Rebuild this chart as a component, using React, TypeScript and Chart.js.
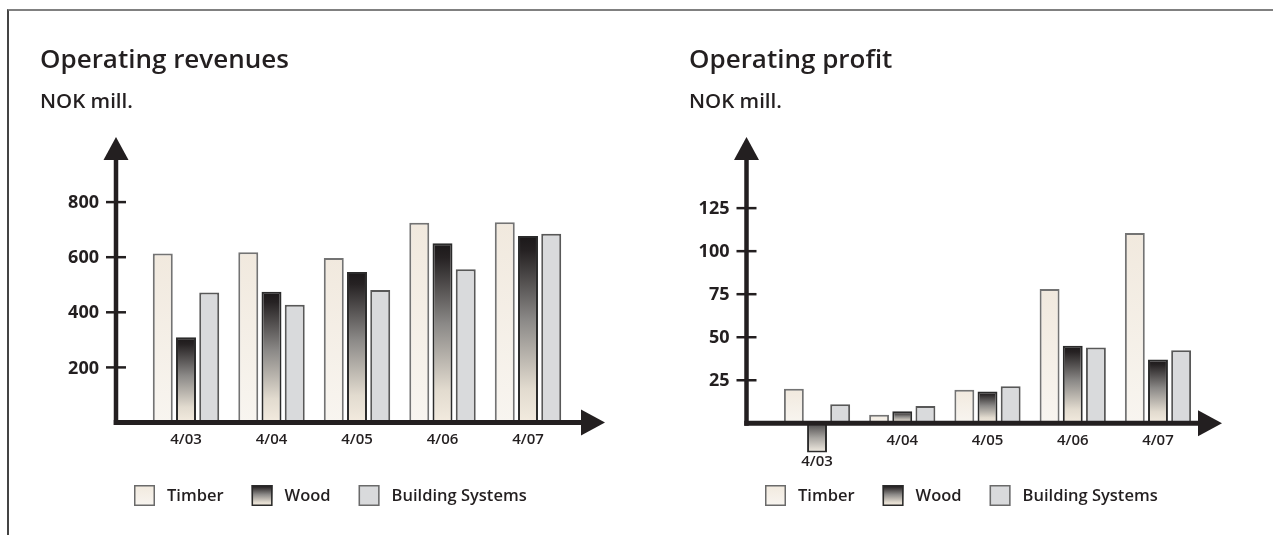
import React, { useEffect, useRef } from "react";
import { Chart, registerables } from "chart.js";

Chart.register(...registerables);

const categories = ["4/03", "4/04", "4/05", "4/06", "4/07"];
const seriesNames = ["Timber", "Wood", "Building Systems"];

const revenueTimber = [613, 618, 597, 725, 727];
const revenueWood = [309, 475, 546, 651, 677];
const revenueBuilding = [472, 427, 481, 556, 685];
const revenueTicks = [200, 400, 600, 800];

const profitTimber = [20, 5, 19.5, 78, 110.5];
const profitWood = [-17, 7, 18.5, 45, 37];
const profitBuilding = [11, 10, 21.5, 44, 42.5];
const profitTicks = [25, 50, 75, 100, 125];

const FONT = "'Open Sans', 'Noto Sans', sans-serif";
const INK = "#231f20";

function woodGradient(ctx: CanvasRenderingContext2D, top: number, bot: number, negative: boolean) {
  const g = ctx.createLinearGradient(0, top, 0, bot);
  if (negative) {
    g.addColorStop(0, "#4a4849");
    g.addColorStop(0.5, "#a8a5a1");
    g.addColorStop(1, "#f4eee4");
  } else {
    g.addColorStop(0, "#1b1819");
    g.addColorStop(0.08, "#262223");
    g.addColorStop(0.45, "#8b8987");
    g.addColorStop(0.82, "#e2dbcf");
    g.addColorStop(1, "#f3ebdf");
  }
  return g;
}

function timberGradient(ctx: CanvasRenderingContext2D, top: number, bot: number) {
  const g = ctx.createLinearGradient(0, top, 0, bot);
  g.addColorStop(0, "#f1e9de");
  g.addColorStop(1, "#f8f5f0");
  return g;
}

const barFill = (kind: string) => (c: any) => {
  const chart = c.chart;
  if (!chart.chartArea || c.type !== "data" || !chart.scales.y) {
    return kind === "wood" ? "#777" : kind === "timber" ? "#f4efe6" : "#d9dadc";
  }
  const ys = chart.scales.y;
  const v = c.raw as number;
  const p = ys.getPixelForValue(v);
  const b = ys.getPixelForValue(0);
  const top = Math.min(p, b);
  const bot = Math.max(p, b);
  if (kind === "wood") return woodGradient(chart.ctx, top, bot, v < 0);
  return timberGradient(chart.ctx, top, bot);
};

const customPlugin = {
  id: "customDraw",
  afterDatasetsDraw(chart: any, _args: any, opts: any) {
    const ctx: CanvasRenderingContext2D = chart.ctx;
    const xs = chart.scales.x;
    const ys = chart.scales.y;
    const ax = opts.axisX;
    const y0 = ys.getPixelForValue(0);
    ctx.save();
    ctx.fillStyle = INK;
    ctx.strokeStyle = INK;

    // y axis
    ctx.lineWidth = 4.5;
    ctx.beginPath();
    ctx.moveTo(ax, y0 + 2.5);
    ctx.lineTo(ax, opts.arrowTop + 20);
    ctx.stroke();
    ctx.beginPath();
    ctx.moveTo(ax, opts.arrowTop);
    ctx.lineTo(ax - 12.5, opts.arrowTop + 23);
    ctx.lineTo(ax + 12.5, opts.arrowTop + 23);
    ctx.closePath();
    ctx.fill();

    // x axis
    ctx.lineWidth = 5;
    ctx.beginPath();
    ctx.moveTo(ax - 2.25, y0);
    ctx.lineTo(opts.arrowRight - 20, y0);
    ctx.stroke();
    ctx.beginPath();
    ctx.moveTo(opts.arrowRight, y0);
    ctx.lineTo(opts.arrowRight - 24, y0 - 13);
    ctx.lineTo(opts.arrowRight - 24, y0 + 13);
    ctx.closePath();
    ctx.fill();

    // y ticks
    ctx.lineWidth = 2.5;
    ctx.font = `700 18px ${FONT}`;
    ctx.textAlign = "right";
    ctx.textBaseline = "middle";
    (opts.ticks as number[]).forEach((v) => {
      const py = ys.getPixelForValue(v);
      ctx.beginPath();
      ctx.moveTo(ax - 10, py);
      ctx.lineTo(ax + 10, py);
      ctx.stroke();
      ctx.fillText(String(v), ax - 17, py + 1);
    });

    // x labels
    ctx.font = `600 15px ${FONT}`;
    ctx.textAlign = "center";
    ctx.textBaseline = "top";
    const labels: string[] = chart.data.labels;
    labels.forEach((lab, i) => {
      const px = xs.getPixelForValue(i);
      let minV = 0;
      chart.data.datasets.forEach((d: any) => {
        if (d.data[i] < minV) minV = d.data[i];
      });
      const py = minV < 0 ? ys.getPixelForValue(minV) + 2 : y0 + 10;
      ctx.fillText(lab, px, py);
    });

    // titles
    ctx.textAlign = "left";
    ctx.textBaseline = "alphabetic";
    ctx.font = `600 26px ${FONT}`;
    ctx.fillText(opts.title, opts.titleX, 68);
    ctx.font = `600 20.5px ${FONT}`;
    ctx.fillText("NOK mill.", opts.titleX, 108);

    // legend
    let lx = opts.legendX;
    const ly = 485;
    const bs = 21;
    ctx.font = `600 16.5px ${FONT}`;
    ctx.textBaseline = "middle";
    chart.data.datasets.forEach((d: any, i: number) => {
      if (i === 1) ctx.fillStyle = woodGradient(ctx, ly, ly + bs, false);
      else if (i === 0) ctx.fillStyle = timberGradient(ctx, ly, ly + bs);
      else ctx.fillStyle = "#d9dadc";
      ctx.fillRect(lx, ly, bs, bs);
      ctx.lineWidth = 1.5;
      ctx.strokeStyle = i === 1 ? "#2a2a2a" : "#6a6a6a";
      ctx.strokeRect(lx + 0.75, ly + 0.75, bs - 1.5, bs - 1.5);
      ctx.fillStyle = INK;
      const tx = lx + bs + 12;
      ctx.fillText(d.label, tx, ly + bs / 2 + 1);
      lx = tx + ctx.measureText(d.label).width + 28;
    });
    ctx.restore();
  },
};

function makeConfig(
  timber: number[],
  wood: number[],
  building: number[],
  yMin: number,
  yMax: number,
  padding: any,
  pluginOpts: any
): any {
  const common = {
    borderWidth: 2,
    borderSkipped: false,
    categoryPercentage: 0.815,
    barPercentage: 0.86,
  };
  return {
    type: "bar",
    data: {
      labels: categories,
      datasets: [
        { ...common, label: seriesNames[0], data: timber, backgroundColor: barFill("timber"), borderColor: "#737373" },
        { ...common, label: seriesNames[1], data: wood, backgroundColor: barFill("wood"), borderColor: "#2b2b2b" },
        { ...common, label: seriesNames[2], data: building, backgroundColor: "#d9dadc", borderColor: "#585858" },
      ],
    },
    options: {
      animation: false,
      responsive: false,
      maintainAspectRatio: false,
      layout: { padding },
      scales: {
        x: { type: "category", display: false, offset: true, grid: { display: false } },
        y: { type: "linear", display: false, min: yMin, max: yMax },
      },
      plugins: {
        legend: { display: false },
        title: { display: false },
        tooltip: { enabled: false },
        customDraw: pluginOpts,
      },
    },
    plugins: [customPlugin],
  };
}

function ChartCanvas({ config, left, width }: { config: any; left: number; width: number }) {
  const ref = useRef<HTMLCanvasElement>(null);
  useEffect(() => {
    if (!ref.current) return;
    const chart = new Chart(ref.current, config);
    return () => chart.destroy();
  }, []);
  return (
    <canvas
      ref={ref}
      width={width}
      height={535}
      style={{ position: "absolute", left, top: 0, width, height: 535 }}
    />
  );
}

export default function App() {
  const leftConfig = makeConfig(
    revenueTimber,
    revenueWood,
    revenueBuilding,
    0,
    1000,
    { left: 143.25, right: 636 - 570.75, top: 147, bottom: 112.5 },
    { axisX: 116, arrowTop: 137, arrowRight: 605, ticks: revenueTicks, title: "Operating revenues", titleX: 40, legendX: 134 }
  );
  const rightConfig = makeConfig(
    profitTimber,
    profitWood,
    profitBuilding,
    -20,
    160,
    { left: 138.4, right: 637 - 564.6, top: 147.9, bottom: 77.3 },
    { axisX: 110.5, arrowTop: 137, arrowRight: 586, ticks: profitTicks, title: "Operating profit", titleX: 53, legendX: 129 }
  );
  return (
    <div style={{ position: "absolute", left: 0, top: 0, width: 1273, height: 535, overflow: "hidden", background: "#fff" }}>
      <div
        style={{
          position: "absolute",
          left: 7,
          top: 9,
          width: 1273 - 7,
          height: 535 - 9,
          borderTop: "2px solid #808080",
          borderLeft: "2px solid #444",
          boxSizing: "border-box",
        }}
      />
      <ChartCanvas config={leftConfig} left={0} width={636} />
      <ChartCanvas config={rightConfig} left={636} width={637} />
    </div>
  );
}
